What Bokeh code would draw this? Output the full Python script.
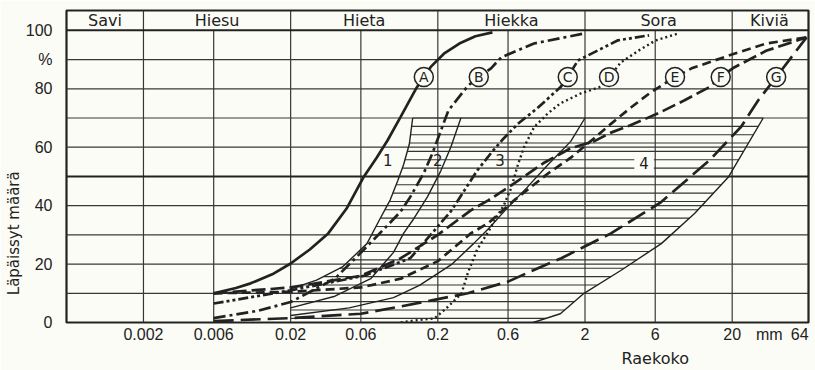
import numpy as np
from bokeh.plotting import figure
from bokeh.models import Range1d, FixedTicker, Label, LinearAxis
from bokeh.core.properties import value
from bokeh.embed import file_html
from bokeh.resources import INLINE

# ---------------- axes / classes ----------------
x_lo, x_hi = 0.0006, 66
x_ticks = [0.002, 0.006, 0.02, 0.06, 0.2, 0.6, 2, 6, 20]
x_tick_labels = ["0.002", "0.006", "0.02", "0.06", "0.2", "0.6", "2", "6", "20"]
x_extra_ticks = [35.7, 57.5]
x_extra_labels = ["mm", "64"]
x_title = "Raekoko"
x_title_at = 6.0
y_ticks = [0, 20, 40, 60, 80, 90, 100]
y_tick_labels = ["0", "20", "40", "60", "80", "%", "100"]
y_title = "Läpäissyt määrä"
y_grid = [10, 20, 30, 40, 60, 70, 80, 90]
class_names = ["Savi", "Hiesu", "Hieta", "Hiekka", "Sora", "Kiviä"]
class_edges = [0.0006, 0.002, 0.02, 0.2, 2, 20, 64]

# ---------------- grading curves (grain size mm, passing %) ----------------
A_d = [0.006, 0.0085, 0.0107, 0.015, 0.02, 0.027, 0.036, 0.048, 0.063, 0.077, 0.091, 0.112, 0.142, 0.179, 0.22, 0.28, 0.36, 0.47]
A_p = [10, 11.8, 13.4, 16.5, 20.2, 25, 30.5, 39, 50, 56.5, 62.3, 70.5, 80, 87.5, 92, 95.5, 98, 99.3]

B_d = [0.006, 0.012, 0.02, 0.04, 0.063, 0.09, 0.112, 0.13, 0.16, 0.184, 0.236, 0.32, 0.37, 0.46, 0.54, 0.9, 2.0]
B_p = [1.5, 4, 7, 15, 25, 33, 38, 43, 51, 58, 72.6, 81, 83.6, 87, 90.8, 95.5, 99]

C_d = [0.006, 0.02, 0.063, 0.13, 0.245, 0.335, 0.37, 0.46, 0.56, 0.70, 0.96, 1.36, 1.51, 1.79, 3.35, 5.45]
C_p = [6.5, 11, 16, 22, 38, 48.6, 52, 58, 63, 68, 73.6, 80.5, 83.6, 89.7, 96.6, 98.3]

D_d = [0.112, 0.14, 0.19, 0.23, 0.29, 0.32, 0.37, 0.44, 0.5, 0.56, 0.63, 0.70, 0.77, 0.90, 1.12, 1.36, 1.87, 2.49, 2.87, 3.5, 4.6, 6.0, 8.7]
D_p = [0, 0.7, 1.4, 5, 10, 17, 25, 31, 36, 40, 46, 54, 60, 66.8, 71.6, 75, 78.4, 80.5, 83.6, 89, 93, 96.5, 99]

E_d = [0.006, 0.02, 0.06, 0.112, 0.2, 0.335, 0.44, 0.66, 1.12, 1.61, 2.3, 3.0, 4.1, 5.5, 7.9, 10.6, 20.6, 34, 64]
E_p = [10, 10.5, 12, 15, 21, 30.5, 34, 41.8, 51, 56.5, 63, 68, 73.6, 78.5, 83.6, 87, 92, 95.5, 97.6]

F_d = [0.006, 0.02, 0.06, 0.112, 0.2, 0.335, 0.44, 0.66, 1.04, 1.59, 2.3, 3.0, 4.07, 6.28, 9.43, 13.9, 16.3, 20.6, 34, 64]
F_p = [10, 12, 16, 22, 30, 38.4, 41.8, 47.6, 54.5, 59.6, 62, 65, 67.5, 71.6, 76, 80.5, 83.6, 87.3, 93, 97.6]

G_d = [0.006, 0.02, 0.06, 0.112, 0.2, 0.32, 0.6, 0.9, 1.38, 3.0, 6.5, 14, 23, 30, 39.8, 64]
G_p = [0.5, 1.5, 3, 5.5, 8, 10, 14, 18, 22, 30.5, 41, 55.5, 67, 76, 84, 97.6]

curve_names = ["A", "B", "C", "D", "E", "F", "G"]
curves_d = [A_d, B_d, C_d, D_d, E_d, F_d, G_d]
curves_p = [A_p, B_p, C_p, D_p, E_p, F_p, G_p]
curve_dash = ["solid", "12 4 3 4", "10 3 3 3 3 3", "2 3", "9 5", "14 5", "20 7"]
tag_level = 84

# ---------------- zone boundaries (thin lines) ----------------
b1_d = [0.02, 0.03, 0.045, 0.066, 0.08, 0.095, 0.107, 0.117, 0.128, 0.135]
b1_p = [11.5, 14.5, 19, 27, 35, 42, 48.6, 54, 61, 70]
b2_d = [0.02, 0.04, 0.07, 0.1, 0.117, 0.135, 0.17, 0.21, 0.245, 0.287]
b2_p = [5, 9, 15, 24, 30.5, 35, 43, 52, 60, 70]
b3_d = [0.02, 0.05, 0.1, 0.15, 0.25, 0.35, 0.45, 0.6, 0.8, 1.12, 1.6, 2.0]
b3_p = [2.4, 5, 8.5, 12.7, 20, 27, 32.5, 39.5, 46, 54, 62, 70]
b4_d = [0.89, 1.36, 1.97, 3.5, 6.6, 11.1, 18.8, 32.5]
b4_p = [0, 3, 10, 17.8, 27, 37.3, 49.7, 70]
zone_top = 70
zone_names = ["1", "2", "3", "4"]
zone_d = [0.0914, 0.2, 0.53, 5.04]
zone_p = [55.5, 55.5, 55.5, 54.5]

# ---------------- style ----------------
ink = "#222222"
grid_c = "#383838"
bg = "#fcfcf6"
txt_font = value("DejaVu Sans")

ymax = 106.8
p = figure(width=815, height=370, x_axis_type="log",
           x_range=Range1d(x_lo, x_hi), y_range=Range1d(0, ymax),
           output_backend="svg", toolbar_location=None,
           min_border_left=66, min_border_right=7, min_border_top=10, min_border_bottom=48)
p.xgrid.visible = False
p.ygrid.visible = False
p.background_fill_color = bg
p.border_fill_color = bg
p.outline_line_color = ink
p.outline_line_width = 2.2

xt = x_ticks + x_extra_ticks
xl = x_tick_labels + x_extra_labels
p.xaxis.ticker = FixedTicker(ticks=xt)
p.xaxis.major_label_overrides = {t: l for t, l in zip(xt, xl)}
p.xaxis.major_label_standoff = 3
p.xaxis.axis_label = None
p.yaxis.ticker = FixedTicker(ticks=y_ticks)
p.yaxis.major_label_overrides = {t: l for t, l in zip(y_ticks, y_tick_labels)}
p.yaxis.major_label_standoff = 14
p.yaxis.axis_label = y_title + "\u00a0" * 28
p.yaxis.axis_label_standoff = 0
p.yaxis.axis_label_text_font = "DejaVu Sans"
p.yaxis.axis_label_text_font_size = "15px"
p.yaxis.axis_label_text_font_style = "normal"
p.yaxis.axis_label_text_color = ink

xa2 = LinearAxis(ticker=FixedTicker(ticks=[x_title_at]),
                 major_label_overrides={x_title_at: x_title}, axis_label=None)
p.add_layout(xa2, "below")
xa2.major_label_standoff = 3

for ax in (p.xaxis[0], p.yaxis[0], xa2):
    ax.axis_line_color = None
    ax.major_tick_line_color = None
    ax.minor_tick_line_color = None
    ax.major_tick_out = 0
    ax.major_tick_in = 0
    ax.minor_tick_out = 0
    ax.minor_tick_in = 0
    ax.major_label_text_font = "Liberation Sans"
    ax.major_label_text_font_size = "16px"
    ax.major_label_text_color = ink
xa2.major_label_text_font = "DejaVu Sans"

# ---- grid ----
p.segment(x0=x_ticks, y0=[0] * len(x_ticks), x1=x_ticks, y1=[100] * len(x_ticks),
          line_color=grid_c, line_width=1.2)
hdr = class_edges[1:-1]
p.segment(x0=hdr, y0=[100] * len(hdr), x1=hdr, y1=[ymax] * len(hdr),
          line_color=grid_c, line_width=1.2)
p.segment(x0=[x_lo] * len(y_grid), y0=y_grid, x1=[x_hi] * len(y_grid), y1=y_grid,
          line_color=grid_c, line_width=1.2)
p.segment(x0=[x_lo] * 2, y0=[50, 100], x1=[x_hi] * 2, y1=[50, 100],
          line_color=ink, line_width=2.0)

# ---- header texts ----
mids = [np.sqrt(a * b) for a, b in zip(class_edges[:-1], class_edges[1:])]
p.text(x=mids, y=[(100 + ymax) / 2] * len(mids), text=class_names, text_font=txt_font,
       text_font_size="16px", text_align="center", text_baseline="middle", text_color=ink)

# ---- hatched zone ----
def at_level(L, d, pp):
    return 10 ** np.interp(L, pp, np.log10(d))

levels = np.arange(zone_top, 0.8, -20 / 7)
hl = [at_level(L, b1_d, b1_p) for L in levels]
hr = [at_level(L, b4_d, b4_p) for L in levels]
p.segment(x0=hl, y0=levels, x1=hr, y1=levels, line_color="#333333", line_width=1.1)
for bd, bp in ((b1_d, b1_p), (b2_d, b2_p), (b3_d, b3_p), (b4_d, b4_p)):
    p.line(bd, bp, line_color=ink, line_width=1.4)

for name, zd, zp in zip(zone_names, zone_d, zone_p):
    p.add_layout(Label(x=zd, y=zp, text=name, text_font="DejaVu Sans", text_font_size="15px",
                       text_align="center", text_baseline="middle", text_color=ink,
                       background_fill_color=bg if name == "4" else None,
                       padding=5 if name == "4" else 0))

# ---- grading curves ----
for d, pp, dash in zip(curves_d, curves_p, curve_dash):
    p.line(d, pp, line_color=ink, line_width=2.7 if dash != "2 3" else 2.4, line_dash=dash)

tag_d = [at_level(tag_level, d, pp) for d, pp in zip(curves_d, curves_p)]
p.scatter(x=tag_d, y=[tag_level] * len(tag_d), marker="circle", size=19,
          fill_color=bg, line_color=ink, line_width=1.5)
p.text(x=tag_d, y=[tag_level] * len(tag_d), text=curve_names, text_font=txt_font,
       text_font_size="14px", text_align="center", text_baseline="middle", text_color=ink)

open("out.html", "w").write(file_html(p, INLINE))
